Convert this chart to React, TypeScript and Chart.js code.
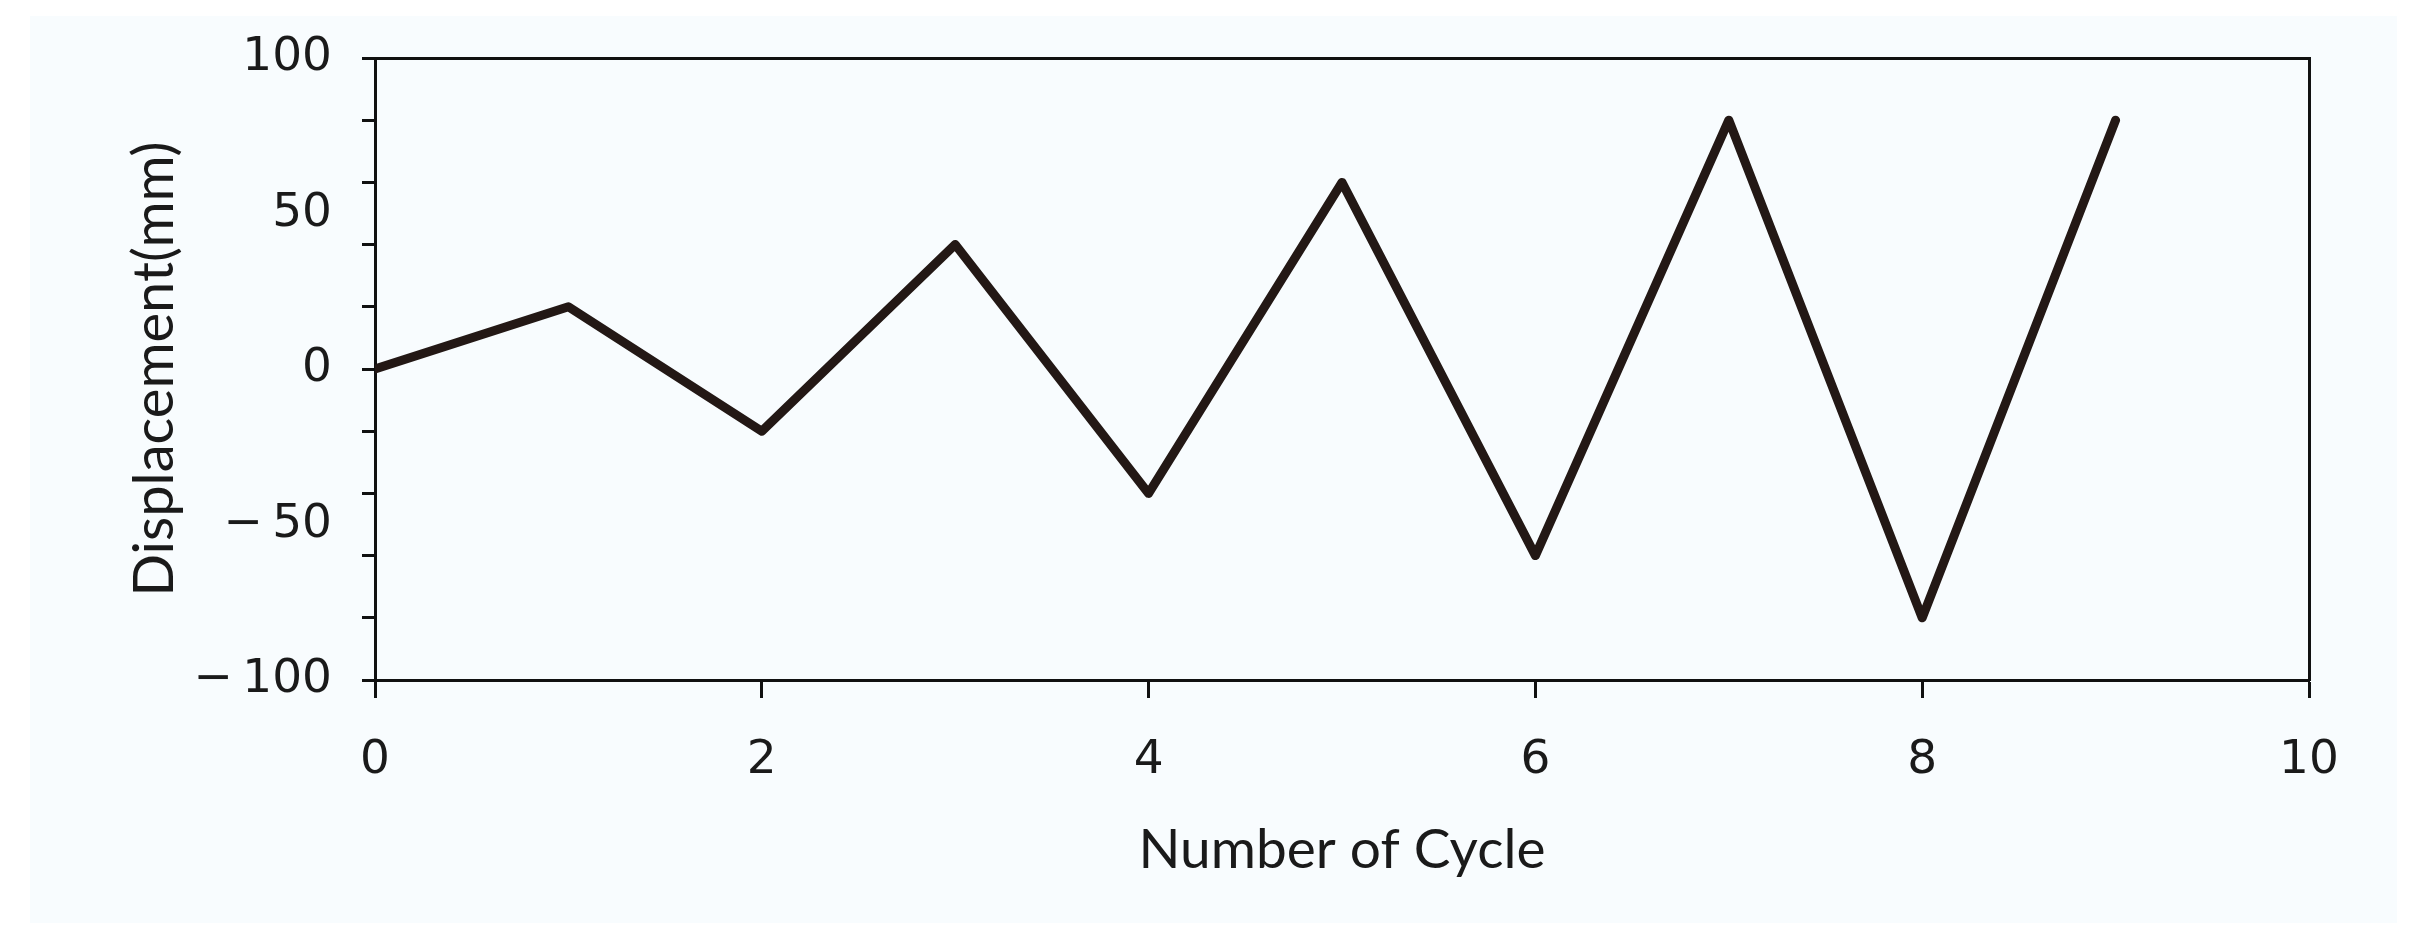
import React, { useEffect, useRef } from "react";
import { Chart, registerables } from "chart.js";

Chart.register(...registerables);

const cycles = [0, 1, 2, 3, 4, 5, 6, 7, 8, 9];
const displacement = [0, 20, -20, 40, -40, 60, -60, 80, -80, 80];
const xTickValues = [0, 2, 4, 6, 8, 10];
const yTickValues = [100, 90, 80, 70, 60, 50, 40, 30, 20, 10, 0, -10, -20, -30, -40, -50, -60, -70, -80, -90, -100];
const yLabelValues = [100, 50, 0, -50, -100];
const yMarkValues = [100, 80, 60, 40, 20, 0, -20, -40, -60, -80, -100];

const FONT = "Lato, 'Open Sans', sans-serif";
const TICK_FONT = "'DejaVu Sans', 'Open Sans', sans-serif";
const INK = "#231815";
const AXIS = "#111";
const TEXT = "#1a1a1a";

export default function App() {
  const ref = useRef<HTMLCanvasElement | null>(null);

  useEffect(() => {
    if (!ref.current) return;
    const chart = new Chart(ref.current, {
      type: "line",
      data: {
        datasets: [
          {
            data: cycles.map((c, i) => ({ x: c, y: displacement[i] })),
            borderColor: INK,
            borderWidth: 9,
            pointRadius: 0,
            borderJoinStyle: "round",
            borderCapStyle: "round",
            tension: 0,
            fill: false,
          },
        ],
      },
      options: {
        animation: false,
        responsive: true,
        maintainAspectRatio: false,
        layout: { padding: 0 },
        plugins: { legend: { display: false }, tooltip: { enabled: false } },
        scales: {
          x: {
            type: "linear",
            position: "bottom",
            min: 0,
            max: 10,
            afterFit: (s: any) => {
              s.height = 243;
              s.paddingLeft = 0;
              s.paddingRight = 0;
            },
            afterBuildTicks: (s: any) => {
              s.ticks = xTickValues.map((v) => ({ value: v }));
            },
            ticks: {
              font: { family: TICK_FONT, size: 47 },
              color: TEXT,
              padding: 35,
              maxRotation: 0,
              autoSkip: false,
            },
            grid: {
              display: true,
              drawOnChartArea: false,
              drawTicks: true,
              tickLength: 18,
              tickWidth: 3,
              tickColor: AXIS,
            },
            border: { display: true, color: AXIS, width: 3 },
            title: {
              display: true,
              text: "Number of Cycle",
              font: { family: FONT, size: 55 },
              color: TEXT,
              padding: { top: 0, bottom: 40 },
            },
          },
          y: {
            type: "linear",
            position: "left",
            min: -100,
            max: 100,
            afterFit: (s: any) => {
              s.width = 367;
              s.paddingTop = 0;
              s.paddingBottom = 0;
            },
            afterBuildTicks: (s: any) => {
              s.ticks = yTickValues.map((v) => ({ value: v }));
            },
            ticks: {
              font: { family: TICK_FONT, size: 47 },
              color: TEXT,
              padding: 30,
              autoSkip: false,
              callback: (v: any) => {
                const n = Number(v);
                if (!yLabelValues.includes(n)) return "";
                return n < 0 ? "\u2212\u2009" + Math.abs(n) : String(n);
              },
            },
            grid: {
              display: true,
              drawOnChartArea: false,
              drawTicks: true,
              tickLength: 13,
              tickWidth: 3,
              tickColor: (ctx: any) =>
                ctx.tick && yMarkValues.includes(ctx.tick.value) ? AXIS : "rgba(0,0,0,0)",
            },
            border: { display: true, color: AXIS, width: 3 },
            title: {
              display: true,
              text: "Displacement(mm)",
              font: { family: FONT, size: 56 },
              color: TEXT,
              padding: { top: 113, bottom: 0 },
            },
          },
          x2: {
            type: "linear",
            position: "top",
            min: 0,
            max: 10,
            afterFit: (s: any) => {
              s.height = 50;
            },
            ticks: { display: false },
            grid: { display: false, drawTicks: false },
            border: { display: true, color: AXIS, width: 3 },
          },
          y2: {
            type: "linear",
            position: "right",
            min: -100,
            max: 100,
            afterFit: (s: any) => {
              s.width = 94;
            },
            ticks: { display: false },
            grid: { display: false, drawTicks: false },
            border: { display: true, color: AXIS, width: 3 },
          },
        },
      },
    });
    return () => chart.destroy();
  }, []);

  return (
    <div style={{ position: "relative", width: 2395, height: 915 }}>
      <div
        style={{
          position: "absolute",
          left: 22,
          top: 8,
          right: 6,
          bottom: 0,
          background: "#f8fcfe",
        }}
      />
      <canvas ref={ref} style={{ position: "relative" }} />
    </div>
  );
}
